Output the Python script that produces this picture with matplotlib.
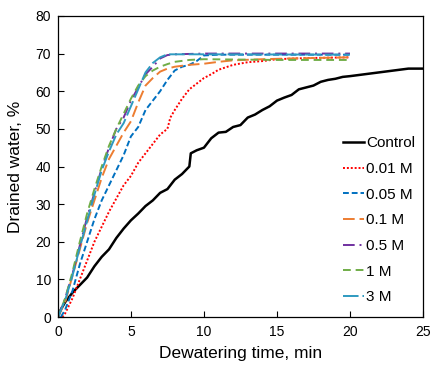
"""Drained water vs dewatering time for different concentrations."""
import matplotlib
matplotlib.use("Agg")
import matplotlib.pyplot as plt

plt.rcParams["font.family"] = ["Liberation Sans", "DejaVu Sans"]

# time (min) and drained water (%)
control_t = [0, 0.2, 0.5, 1, 1.5, 2, 2.5, 3, 3.5, 4, 4.5, 5, 5.5, 6, 6.5, 7, 7.5, 8, 8.5, 9,
             9.1, 9.5, 10, 10.5, 11, 11.5, 12, 12.5, 13, 13.5, 14, 14.5, 15, 15.5, 16, 16.5,
             17, 17.5, 18, 18.5, 19, 19.5, 20, 21, 22, 23, 24, 25]
control_y = [0, 2, 4, 6.5, 8.5, 10.5, 13.5, 16, 18, 21, 23.5, 25.7, 27.5, 29.5, 31, 33, 34,
             36.5, 38, 40, 43.5, 44.3, 45, 47.5, 49, 49.2, 50.5, 51, 53, 53.8, 55, 56, 57.5,
             58.3, 59, 60.5, 61, 61.5, 62.5, 63, 63.3, 63.8, 64, 64.5, 65, 65.5, 66, 66]

m001_t = [0.3, 0.5, 1, 1.5, 2, 2.5, 3, 3.5, 4, 4.5, 5, 5.5, 6, 6.5, 7, 7.5, 7.7, 8, 8.5, 9,
          9.5, 10, 10.5, 11, 12, 13, 14, 15, 17, 20]
m001_y = [0, 1, 5, 10, 15, 20, 24, 28, 31.5, 35, 37.5, 41, 43.5, 46, 48.5, 50, 53, 55, 58,
          60.5, 62, 63.5, 64.5, 65.7, 67, 67.7, 68, 68.5, 68.8, 69]

m005_t = [0.2, 0.5, 1, 1.5, 2, 2.5, 3, 3.5, 4, 4.5, 5, 5.5, 6, 6.5, 7, 7.5, 8, 8.5, 9, 9.5,
          10, 11, 20]
m005_y = [0, 2, 7, 14, 20, 26, 31, 35, 39, 43, 48, 50.5, 55, 57.5, 60, 63, 65.5, 66.5, 67,
          68, 69.5, 69.7, 69.7]

m01_t = [0, 0.5, 1, 1.5, 2, 2.5, 3, 3.5, 4, 4.5, 5, 5.5, 6, 6.5, 7, 7.5, 8, 9, 10, 11, 12,
         14, 16, 20]
m01_y = [0, 4, 11, 18, 25, 31, 37, 42, 45.5, 49, 52, 57, 61.5, 63.5, 65.2, 66, 66.5, 67,
         67.3, 67.8, 68.2, 68.5, 68.7, 69]

m05_t = [0, 0.5, 1, 1.5, 2, 2.5, 3, 3.5, 4, 4.5, 5, 5.5, 6, 6.5, 7, 7.5, 8, 10, 20]
m05_y = [0, 5, 11.5, 19, 26.5, 33, 39.5, 45, 50, 53, 57.5, 61, 64.5, 66.5, 68.7, 69.6,
         69.8, 70, 70]

m1_t = [0, 0.5, 1, 1.5, 2, 2.5, 3, 3.5, 4, 4.5, 5, 5.5, 6, 6.5, 7, 7.5, 8, 9, 10, 15, 20]
m1_y = [0, 5, 12, 20, 27.5, 34, 40, 45.5, 50, 54, 58, 61.5, 64, 65.5, 66.5, 67.2, 67.8,
        68.3, 68.5, 68.3, 68.3]

m3_t = [0, 0.5, 1, 1.5, 2, 2.5, 3, 3.5, 4, 4.5, 5, 5.5, 6, 6.5, 7, 7.5, 10, 20]
m3_y = [0, 4.5, 11, 18.5, 25.5, 32.5, 39, 44, 48.5, 51.5, 56, 60.5, 65, 67.5, 69, 69.8,
        69.8, 69.7]

SERIES = [
    ("Control", control_t, control_y, "black", "-"),
    ("0.01 M", m001_t, m001_y, "#FF0000", (0, (1, 1))),
    ("0.05 M", m005_t, m005_y, "#0070C0", (0, (3, 1.5))),
    ("0.1 M", m01_t, m01_y, "#ED7D31", (0, (6, 2.5))),
    ("0.5 M", m05_t, m05_y, "#7030A0", (0, (6, 2.5, 1, 2.5))),
    ("1 M", m1_t, m1_y, "#70AD47", (0, (4, 2.5))),
    ("3 M", m3_t, m3_y, "#2E9AC0", (0, (8, 2))),
]


def main():
    fig = plt.figure(figsize=(4.42, 3.70), dpi=100)
    ax = fig.add_axes([0.131, 0.143, 0.826, 0.814])

    for label, t, y, color, ls in SERIES:
        lw = 1.8 if label == "Control" else 1.4
        ax.plot(t, y, color=color, linestyle=ls, linewidth=lw, label=label)

    ax.set_xlim(0, 25)
    ax.set_ylim(0, 80)
    ax.set_xticks(range(0, 26, 5))
    ax.set_yticks(range(0, 81, 10))
    ax.tick_params(direction="in", labelsize=10, length=4, width=0.8)
    ax.tick_params(axis="x", pad=6)
    ax.tick_params(axis="y", pad=5)
    for sp in ax.spines.values():
        sp.set_linewidth(0.9)
    ax.set_xlabel("Dewatering time, min", fontsize=12.5, labelpad=5)
    ax.set_ylabel("Drained water, %", fontsize=12.5, labelpad=9)

    ax.legend(loc="upper left", bbox_to_anchor=(0.764, 0.62), frameon=False,
              fontsize=11, handlelength=1.4, handletextpad=0.1, labelspacing=0.76,
              borderaxespad=0)

    fig.savefig("out.png", dpi=100)
    plt.close(fig)


if __name__ == "__main__":
    main()
